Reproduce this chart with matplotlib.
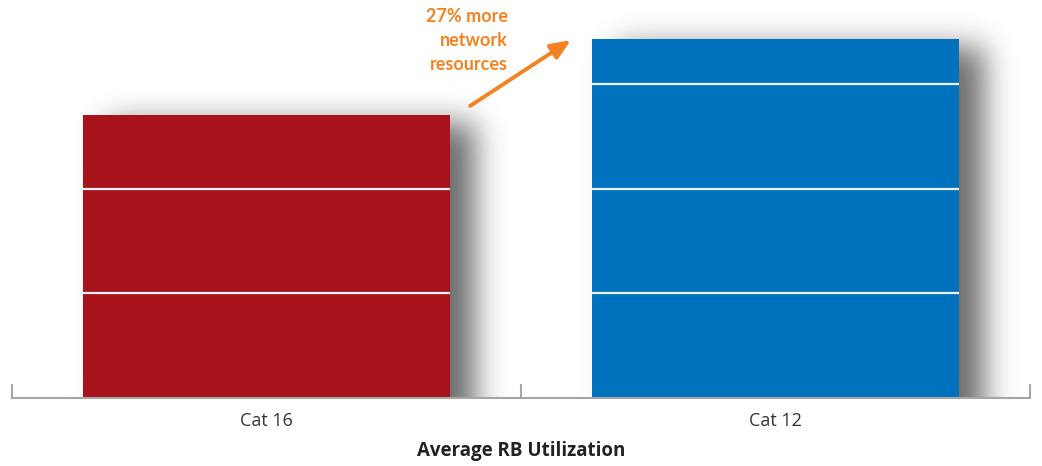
import numpy as np
import matplotlib
matplotlib.use("Agg")
import matplotlib.pyplot as plt

# Data
categories = ["Cat 16", "Cat 12"]
utilization = [2.70, 3.43]          # relative RB utilization (Cat 12 is 27% higher)
bar_colors = ["#A8131B", "#0071BC"]
grid_levels = [1, 2, 3]
x_label = "Average RB Utilization"
callout = "27% more\nnetwork\nresources"

plt.rcParams["font.family"] = ["Open Sans", "DejaVu Sans"]

W, H, DPI = 1042, 466, 100
fig = plt.figure(figsize=(W / DPI, H / DPI), dpi=DPI)
ax = fig.add_axes([12 / W, 68 / H, (1030 - 12) / W, 398 / H])

x = np.arange(len(categories))
bar_w = 0.72
xlim = (-0.5, len(categories) - 0.5)
ylim = (0, 3.802)
ax.set_xlim(*xlim)
ax.set_ylim(*ylim)

# Soft drop shadow behind the bars, built as a blurred mask in pixel space
ax_px_w = int(round(ax.get_position().width * W))
ax_px_h = int(round(ax.get_position().height * H))
pad = 80
gw, gh = ax_px_w + 2 * pad, ax_px_h + 2 * pad
mask = np.zeros((gh, gw))
px_per_x = ax_px_w / (xlim[1] - xlim[0])
px_per_y = ax_px_h / (ylim[1] - ylim[0])
dx_px, dy_px = 25, 8
for xi, v in zip(x, utilization):
    c0 = int(round((xi - bar_w / 2 - xlim[0]) * px_per_x)) + pad + dx_px
    c1 = int(round((xi + bar_w / 2 - xlim[0]) * px_per_x)) + pad + dx_px
    r_top = int(round((ylim[1] - v) * px_per_y)) + pad + dy_px
    mask[r_top:, c0:c1] = 1.0

sigma = 15.0
k = np.arange(-int(4 * sigma), int(4 * sigma) + 1)
kern = np.exp(-0.5 * (k / sigma) ** 2)
kern /= kern.sum()
blur = np.apply_along_axis(lambda r: np.convolve(r, kern, mode="same"), 1, mask)
blur = np.apply_along_axis(lambda c: np.convolve(c, kern, mode="same"), 0, blur)
blur = blur[pad:pad + ax_px_h, pad:pad + ax_px_w]

shadow = np.zeros((ax_px_h, ax_px_w, 4))
shadow[..., :3] = 0.15
shadow[..., 3] = 0.68 * blur
ax.imshow(shadow, extent=(xlim[0], xlim[1], ylim[0], ylim[1]),
          aspect="auto", interpolation="bilinear", zorder=1)

# Bars
ax.bar(x, utilization, width=bar_w, color=bar_colors, zorder=2)

# Light grid lines drawn across the bars only
for xi, v in zip(x, utilization):
    levels = [g for g in grid_levels if g < v]
    ax.hlines(levels, xi - bar_w / 2, xi + bar_w / 2, colors="#eef2f6",
              linewidth=1.6, zorder=3)

# Axes styling
for s in ["top", "right", "left"]:
    ax.spines[s].set_visible(False)
ax.spines["bottom"].set_color("#a6a6a6")
ax.spines["bottom"].set_linewidth(1.5)
ax.set_yticks([])
ax.set_xticks(x)
ax.set_xticklabels(categories, fontsize=13, color="#333333")
ax.tick_params(axis="x", which="major", length=0, pad=10)
ax.set_xticks(np.arange(xlim[0], xlim[1] + 0.01, 1.0), minor=True)
ax.tick_params(axis="x", which="minor", direction="in", length=10,
               width=1.5, color="#a6a6a6")
ax.set_xlabel(x_label, fontsize=13.5, fontweight="bold", color="#222222",
              labelpad=8)

# Callout arrow and text
ax.annotate("", xy=(0.598, 3.42), xytext=(0.40, 2.79),
            arrowprops=dict(arrowstyle="-|>,head_length=1.2,head_width=0.5",
                            color="#F58220", lw=2.8, shrinkA=0, shrinkB=0),
            zorder=4)
ax.text(0.4745, 3.73, callout, ha="right", va="top", fontsize=13,
        fontweight="bold", color="#F58220", linespacing=1.52, zorder=4,
        family=["Lato", "DejaVu Sans"])

fig.savefig("out.png", dpi=DPI)
